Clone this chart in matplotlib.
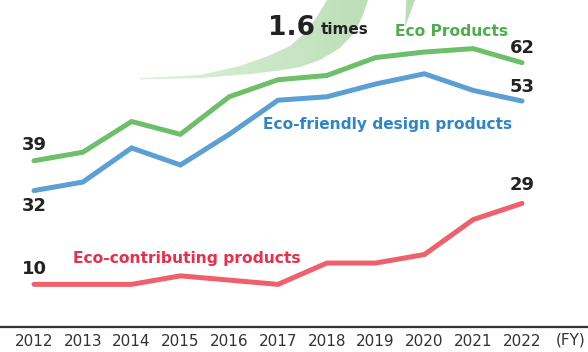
import matplotlib
matplotlib.use("Agg")
import matplotlib.pyplot as plt
import numpy as np
from matplotlib.path import Path
from matplotlib.patches import PathPatch

years = [2012, 2013, 2014, 2015, 2016, 2017, 2018, 2019, 2020, 2021, 2022]
eco_products = [39, 41, 48.2, 45.2, 54, 58, 59, 63.2, 64.5, 65.3, 62]
eco_design = [32, 34, 42, 38, 45.2, 53.2, 54, 57, 59.4, 55.5, 53]
eco_contrib = [10, 10, 10, 12, 11, 10, 15, 15, 17, 25.2, 29]

green = "#6dbf6a"
blue = "#5b9fd5"
red = "#f0606c"

fig = plt.figure(figsize=(5.88, 3.52), dpi=100)

# overlay in pixel coordinates for the growth arrow
ov = fig.add_axes([0, 0, 1, 1], zorder=0)
ov.set_xlim(0, 588)
ov.set_ylim(352, 0)
ov.axis("off")

upper = [(140, 78), (200, 75), (240, 66), (268, 56), (290, 46), (305, 33),
         (318, 15), (327, 0), (335, -20)]
head = [(330, -40), (450, -90), (415, 0), (405, 27), (408, -30)]
lower = [(380, -30), (372, -15), (368, 0), (363, 15), (355, 32), (340, 48),
         (320, 60), (300, 67), (280, 70.5), (250, 74), (200, 78), (140, 79.5)]
pts = upper + head + lower
arrow = Path(pts + [pts[0]], [Path.MOVETO] + [Path.LINETO] * (len(pts) - 1) + [Path.CLOSEPOLY])
patch = PathPatch(arrow, facecolor="none", edgecolor="none")
ov.add_patch(patch)
grad = np.linspace(0, 1, 256).reshape(1, -1)
c0 = np.array([0.88, 0.95, 0.87])
c1 = np.array([0.73, 0.87, 0.71])
img = c0 + (c1 - c0) * np.clip(grad[..., None] * 1.3, 0, 1)
im = ov.imshow(img, extent=[140, 450, 100, -90], aspect="auto", interpolation="bilinear")
im.set_clip_path(patch)

# main chart
ax = fig.add_axes([0, 25 / 352, 1, 327 / 352], zorder=1)
ax.patch.set_alpha(0)
ax.set_xlim(2012 - 34 / 48.8, 2012 + 554 / 48.8)
ax.set_ylim(0, 327 / 4.263)
for s in ["top", "right", "left"]:
    ax.spines[s].set_visible(False)
ax.spines["bottom"].set_color("#333333")
ax.spines["bottom"].set_linewidth(1.6)
ax.set_yticks([])
ax.set_xticks(years)
ax.set_xticklabels([str(y) for y in years])
ax.tick_params(axis="x", length=0, pad=5, labelsize=11, labelcolor="#333333")

ax.plot(years, eco_products, color=green, lw=3.6, solid_capstyle="round", solid_joinstyle="miter")
ax.plot(years, eco_design, color=blue, lw=3.6, solid_capstyle="round", solid_joinstyle="miter")
ax.plot(years, eco_contrib, color=red, lw=3.6, solid_capstyle="round", solid_joinstyle="miter")

num = dict(fontsize=13, fontweight="bold", color="#222222", ha="center", va="center")
ax.text(years[0], eco_products[0] + 3.6, "39", **num)
ax.text(years[0], eco_design[0] - 3.5, "32", **num)
ax.text(years[0], eco_contrib[0] + 3.5, "10", **num)
ax.text(years[-1], eco_products[-1] + 3.4, "62", **num)
ax.text(years[-1], eco_design[-1] + 3.2, "53", **num)
ax.text(years[-1], eco_contrib[-1] + 4.2, "29", **num)

fig.text(571 / 588, 1 - 340 / 352, "(FY)", fontsize=11, color="#333333", ha="center", va="center")

fig.text(268 / 588, 1 - 28 / 352, "1.6", fontsize=19, fontweight="bold", color="#222222",
         ha="left", va="center")
fig.text(321 / 588, 1 - 29 / 352, "times", fontsize=11, fontweight="bold", color="#222222",
         ha="left", va="center")
fig.text(395 / 588, 1 - 31 / 352, "Eco Products", fontsize=11.2, fontweight="bold", color="#4caf4c",
         ha="left", va="center")
fig.text(263 / 588, 1 - 124 / 352, "Eco-friendly design products", fontsize=11.1, fontweight="bold",
         color="#2e86c9", ha="left", va="center")
fig.text(73 / 588, 1 - 258 / 352, "Eco-contributing products", fontsize=11.2, fontweight="bold",
         color="#e8304a", ha="left", va="center")

fig.savefig("out.png", dpi=100)
